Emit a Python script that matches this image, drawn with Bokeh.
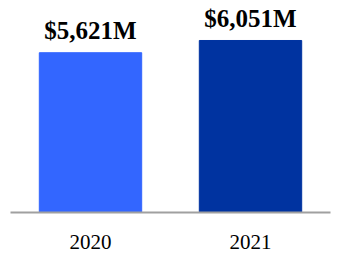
from bokeh.plotting import figure
from bokeh.models import ColumnDataSource, FactorRange, Range1d
from bokeh.core.properties import value
from bokeh.embed import file_html
from bokeh.resources import INLINE

years = ["2020", "2021"]
revenue = [5621, 6051]
labels = ["$5,621M", "$6,051M"]
colors = ["#3366FF", "#0033A0"]

src = ColumnDataSource(dict(x=years, top=revenue, label=labels, color=colors))

p = figure(width=340, height=266, x_range=FactorRange(*years, range_padding=0),
           y_range=Range1d(0, 7458), output_backend="svg", toolbar_location=None,
           min_border_left=10, min_border_right=10, min_border_top=0, min_border_bottom=54)

p.vbar(x="x", top="top", width=0.64, color="color", source=src)
p.text(x="x", y="top", text="label", source=src, text_align="center",
       text_baseline="alphabetic", y_offset=-22,
       text_font=value("Liberation Serif"), text_font_size="25px",
       text_font_style="bold", text_color="#000000")

p.yaxis.visible = False
p.xgrid.visible = False
p.ygrid.visible = False
p.outline_line_color = None
p.xaxis.axis_line_color = "#a0a0a0"
p.xaxis.axis_line_width = 2
p.xaxis.major_tick_line_color = None
p.xaxis.minor_tick_line_color = None
p.xaxis.major_tick_out = 0
p.xaxis.major_tick_in = 0
p.xaxis.major_label_standoff = 22
p.xaxis.major_label_text_font = "Liberation Serif"
p.xaxis.major_label_text_font_size = "21px"
p.xaxis.major_label_text_color = "#000000"

open("out.html", "w").write(file_html(p, INLINE))
